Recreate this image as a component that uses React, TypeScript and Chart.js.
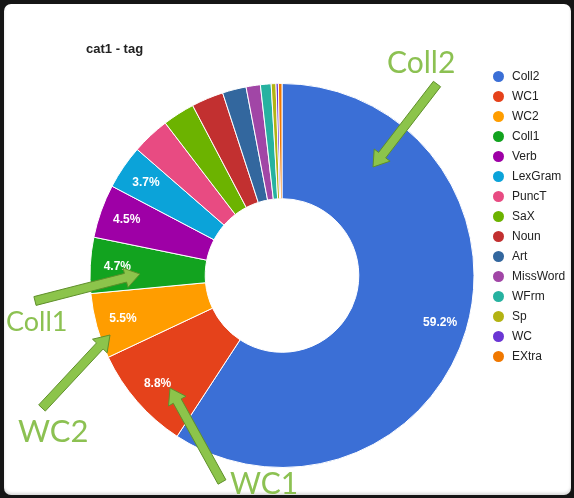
import React, { useEffect, useRef } from "react";
import { Chart, registerables } from "chart.js";

Chart.register(...registerables);

// ---- data ----
const categories = [
  "Coll2", "WC1", "WC2", "Coll1", "Verb", "LexGram", "PuncT", "SaX",
  "Noun", "Art", "MissWord", "WFrm", "Sp", "WC", "EXtra",
];
const shares = [59.2, 8.8, 5.5, 4.7, 4.5, 3.7, 3.2, 2.7, 2.7, 2.0, 1.2, 0.9, 0.4, 0.2, 0.3];
const sliceColors = [
  "#3b6fd6", "#e5421b", "#ff9d00", "#12a31f", "#9e00a6", "#0ba3d9", "#e84b82",
  "#6cb300", "#c23030", "#33679e", "#a146a6", "#26b2a0", "#b3b313", "#6a36d4", "#f07800",
];
const chartTitle = "cat1 - tag";
const labelMinShare = 3.5;

// annotation callouts overlaid on the screenshot
const calloutLabels = ["Coll2", "Coll1", "WC2", "WC1"];
const calloutText = [
  { left: 387, top: 46, size: 30 },
  { left: 6, top: 307, size: 27 },
  { left: 18, top: 415, size: 31 },
  { left: 230, top: 467, size: 30 },
];
const calloutArrows = [
  { tail: [437, 84], tip: [373, 167] },
  { tail: [35, 301], tip: [140, 274] },
  { tail: [42, 408], tip: [110, 335] },
  { tail: [222, 482], tip: [170, 388] },
];

const percentLabels = {
  id: "percentLabels",
  afterDatasetsDraw(chart: any) {
    const meta = chart.getDatasetMeta(0);
    const data = chart.data.datasets[0].data as number[];
    const total = data.reduce((a, b) => a + b, 0);
    const ctx = chart.ctx as CanvasRenderingContext2D;
    ctx.save();
    ctx.font = "bold 12px 'Liberation Sans', Arial, sans-serif";
    ctx.fillStyle = "#ffffff";
    ctx.textAlign = "center";
    ctx.textBaseline = "middle";
    meta.data.forEach((arc: any, i: number) => {
      const pct = (data[i] / total) * 100;
      if (pct < labelMinShare) return;
      const p = arc.getProps(["x", "y", "startAngle", "endAngle", "innerRadius", "outerRadius"], true);
      const mid = (p.startAngle + p.endAngle) / 2;
      const r = p.innerRadius + (p.outerRadius - p.innerRadius) * 0.765;
      ctx.fillText(pct.toFixed(1) + "%", p.x + Math.cos(mid) * r, p.y + Math.sin(mid) * r);
    });
    ctx.restore();
  },
};

function arrowPoints(tail: number[], tip: number[]) {
  const [x1, y1] = tail;
  const [x2, y2] = tip;
  const dx = x2 - x1, dy = y2 - y1;
  const len = Math.hypot(dx, dy);
  const ux = dx / len, uy = dy / len;
  const nx = -uy, ny = ux;
  const shaft = 4.5, head = 10, headLen = 15;
  const bx = x2 - ux * headLen, by = y2 - uy * headLen;
  const pts = [
    [x1 + nx * shaft, y1 + ny * shaft],
    [bx + nx * shaft, by + ny * shaft],
    [bx + nx * head, by + ny * head],
    [x2, y2],
    [bx - nx * head, by - ny * head],
    [bx - nx * shaft, by - ny * shaft],
    [x1 - nx * shaft, y1 - ny * shaft],
  ];
  return pts.map((p) => p[0].toFixed(1) + "," + p[1].toFixed(1)).join(" ");
}

export default function App() {
  const canvasRef = useRef<HTMLCanvasElement | null>(null);

  useEffect(() => {
    if (!canvasRef.current) return;
    const chart = new Chart(canvasRef.current, {
      type: "doughnut",
      data: {
        labels: categories,
        datasets: [
          {
            data: shares,
            backgroundColor: sliceColors,
            borderColor: "#ffffff",
            borderWidth: 1,
            hoverOffset: 0,
            radius: 192,
          } as any,
        ],
      },
      options: {
        responsive: false,
        animation: false,
        cutout: "40%",
        layout: { padding: { left: 90, right: 100, top: 83.5, bottom: 30.5 } },
        plugins: {
          legend: { display: false },
          tooltip: { enabled: false },
          title: { display: false },
        },
      } as any,
      plugins: [percentLabels],
    });
    return () => chart.destroy();
  }, []);

  return (
    <div
      style={{
        position: "absolute",
        left: 0,
        top: 0,
        width: 574,
        height: 498,
        background: "#151515",
        overflow: "hidden",
      }}
    >
      <div
        style={{
          position: "absolute",
          left: 4,
          top: 4,
          width: 567,
          height: 491,
          background: "#ffffff",
          borderRadius: 7,
          boxShadow: "inset 0 -2px 3px rgba(0,0,0,0.15)",
        }}
      />
      <canvas
        ref={canvasRef}
        width={574}
        height={498}
        style={{ position: "absolute", left: 0, top: 0, width: 574, height: 498 }}
      />
      <div
        style={{
          position: "absolute",
          left: 86,
          top: 41,
          font: "bold 13px 'Liberation Sans', Arial, sans-serif",
          color: "#222",
          whiteSpace: "nowrap",
        }}
      >
        {chartTitle}
      </div>
      {categories.map((c, i) => (
        <div
          key={c}
          style={{
            position: "absolute",
            left: 493,
            top: 76 + i * 20 - 8,
            height: 16,
            display: "flex",
            alignItems: "center",
            font: "12px 'Liberation Sans', Arial, sans-serif",
            color: "#222",
            whiteSpace: "nowrap",
          }}
        >
          <span
            style={{
              display: "inline-block",
              width: 11,
              height: 11,
              borderRadius: "50%",
              background: sliceColors[i],
              marginRight: 8,
            }}
          />
          {c}
        </div>
      ))}
      <svg
        width={574}
        height={498}
        style={{ position: "absolute", left: 0, top: 0, pointerEvents: "none" }}
      >
        {calloutArrows.map((a, i) => (
          <polygon
            key={i}
            points={arrowPoints(a.tail, a.tip)}
            fill="#8cc44b"
            stroke="#5f8f2b"
            strokeWidth={1}
            strokeLinejoin="round"
          />
        ))}
      </svg>
      {calloutLabels.map((t, i) => (
        <div
          key={t}
          style={{
            position: "absolute",
            left: calloutText[i].left,
            top: calloutText[i].top,
            fontFamily: "Lato, 'Noto Sans', sans-serif",
            fontSize: calloutText[i].size,
            lineHeight: calloutText[i].size + "px",
            color: "#8cc152",
            whiteSpace: "nowrap",
          }}
        >
          {t}
        </div>
      ))}
    </div>
  );
}
